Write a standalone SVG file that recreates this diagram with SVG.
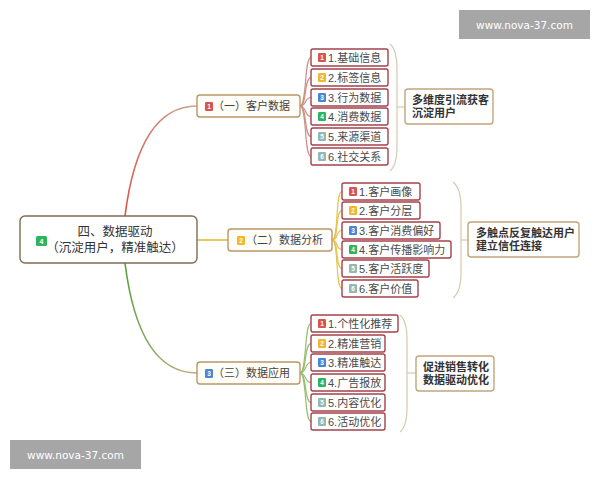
<svg xmlns="http://www.w3.org/2000/svg" width="600" height="480" viewBox="0 0 600 480">
<style>
text{font-family:"Liberation Sans","Noto Sans CJK SC",sans-serif;}
.leaf{fill:#fff;stroke:#a3424b;stroke-width:1.4;}
.lt{font-size:11px;fill:#4a4a4a;}
.br{fill:#fffdf8;stroke:#b99868;stroke-width:1.4;}
.bt{font-size:11px;fill:#444;}
.sum{fill:#fff;stroke:#c4a57c;stroke-width:1.4;}
.st{font-size:11px;font-weight:bold;fill:#333;}
.bn{font-size:6.5px;font-weight:bold;fill:#fff;text-anchor:middle;}
.c1{fill:#d9534f;}.c2{fill:#f0b72f;}.c3{fill:#4a86d4;}.c4{fill:#2db55d;}.c5{fill:#93b7b3;}
.f1{fill:none;stroke:#cc9087;stroke-width:1.2;}
.f2{fill:none;stroke:#e6c34f;stroke-width:1.2;}
.f3{fill:none;stroke:#96bf72;stroke-width:1.2;}
.brace{fill:none;stroke:#d8c8b0;stroke-width:1.2;}
.wm{fill:#a6a6a6;}
.wmt{font-family:"DejaVu Sans",sans-serif;font-size:10.5px;fill:#fff;}
</style>
<defs>
<linearGradient id="g1" gradientUnits="userSpaceOnUse" x1="125" y1="216" x2="197" y2="106">
<stop offset="0" stop-color="#d9534a"/><stop offset="0.6" stop-color="#d27a6a"/><stop offset="1" stop-color="#caa68a"/>
</linearGradient>
<linearGradient id="g3" gradientUnits="userSpaceOnUse" x1="125" y1="263" x2="197" y2="373">
<stop offset="0" stop-color="#58a03a"/><stop offset="0.6" stop-color="#82a860"/><stop offset="1" stop-color="#bfae88"/>
</linearGradient>
</defs>
<rect width="600" height="480" fill="#fff"/>

<g id="connectors">
<path d="M125,216 C132,160 150,106 197,106" fill="none" stroke="url(#g1)" stroke-width="1.6"/>
<path d="M197,240 L228,240" fill="none" stroke="#e3bd3c" stroke-width="1.6"/>
<path d="M125,263 C132,319 150,373 197,373" fill="none" stroke="url(#g3)" stroke-width="1.6"/>
<g>
<path class="f1" d="M300,106 C307,106 304,57.5 311,57.5"/>
<path class="f1" d="M300,106 C307,106 304,77.5 311,77.5"/>
<path class="f1" d="M300,106 C307,106 304,97.5 311,97.5"/>
<path class="f1" d="M300,106 C307,106 304,116.5 311,116.5"/>
<path class="f1" d="M300,106 C307,106 304,136.5 311,136.5"/>
<path class="f1" d="M300,106 C307,106 304,156.5 311,156.5"/>
</g>
<g>
<path class="f2" d="M332,240 C339,240 335,191.5 342,191.5"/>
<path class="f2" d="M332,240 C339,240 335,210.5 342,210.5"/>
<path class="f2" d="M332,240 C339,240 335,230.5 342,230.5"/>
<path class="f2" d="M332,240 C339,240 335,249.5 342,249.5"/>
<path class="f2" d="M332,240 C339,240 335,268.5 342,268.5"/>
<path class="f2" d="M332,240 C339,240 335,288.5 342,288.5"/>
</g>
<g>
<path class="f3" d="M300,373 C307,373 304,323.5 311,323.5"/>
<path class="f3" d="M300,373 C307,373 304,343.5 311,343.5"/>
<path class="f3" d="M300,373 C307,373 304,362.5 311,362.5"/>
<path class="f3" d="M300,373 C307,373 304,382.5 311,382.5"/>
<path class="f3" d="M300,373 C307,373 304,402.5 311,402.5"/>
<path class="f3" d="M300,373 C307,373 304,421.5 311,421.5"/>
</g>
<path class="brace" d="M390,44 C395,48 397,56 397,70 L397,146 C397,160 395,167 390,171"/>
<path class="brace" d="M397,107 L405,107"/>
<path class="brace" d="M453,182 C458,186 461,194 461,207 L461,273 C461,286 458,294 453,298"/>
<path class="brace" d="M461,240 L468,240"/>
<path class="brace" d="M400,315 C405,319 407,327 407,340 L407,407 C407,420 405,428 400,432"/>
<path class="brace" d="M407,373 L416,373"/>
</g>

<g id="center">
<rect x="20" y="216" width="177" height="47" rx="5" fill="#fff" stroke="#7d6c56" stroke-width="1.4"/>
<rect x="36" y="236" width="11" height="10" rx="1.5" class="c4"/>
<text x="41.5" y="243.5" class="bn" style="font-size:7px">4</text>
<text x="115" y="236" text-anchor="middle" style="font-size:12.5px;fill:#333">四、数据驱动</text>
<text x="115" y="252" text-anchor="middle" style="font-size:12.5px;fill:#333">（沉淀用户，精准触达）</text>
</g>

<g id="branch1">
<rect x="197" y="95" width="103" height="22" rx="3" class="br"/>
<rect x="205" y="102" width="8" height="9" rx="1.2" class="c1"/>
<text x="209" y="109" class="bn">1</text>
<text x="213" y="110" class="bt">（一）客户数据</text>
</g>
<g id="b1leaves">
<g id="b1l1"><rect x="311" y="49" width="77" height="17" rx="2" class="leaf"/><rect x="318" y="53" width="8" height="9" rx="1.2" class="c1"/><text x="322" y="60" class="bn">1</text><text x="328" y="61.5" class="lt">1.基础信息</text></g>
<g id="b1l2"><rect x="311" y="69" width="77" height="17" rx="2" class="leaf"/><rect x="318" y="73" width="8" height="9" rx="1.2" class="c2"/><text x="322" y="80" class="bn">2</text><text x="328" y="81.5" class="lt">2.标签信息</text></g>
<g id="b1l3"><rect x="311" y="89" width="77" height="17" rx="2" class="leaf"/><rect x="318" y="93" width="8" height="9" rx="1.2" class="c3"/><text x="322" y="100" class="bn">3</text><text x="328" y="101.5" class="lt">3.行为数据</text></g>
<g id="b1l4"><rect x="311" y="108" width="77" height="17" rx="2" class="leaf"/><rect x="318" y="112" width="8" height="9" rx="1.2" class="c4"/><text x="322" y="119" class="bn">4</text><text x="328" y="120.5" class="lt">4.消费数据</text></g>
<g id="b1l5"><rect x="311" y="128" width="77" height="17" rx="2" class="leaf"/><rect x="318" y="132" width="8" height="9" rx="1.2" class="c5"/><text x="322" y="139" class="bn">5</text><text x="328" y="140.5" class="lt">5.来源渠道</text></g>
<g id="b1l6"><rect x="311" y="148" width="77" height="17" rx="2" class="leaf"/><rect x="318" y="152" width="8" height="9" rx="1.2" class="c5"/><text x="322" y="159" class="bn">6</text><text x="328" y="160.5" class="lt">6.社交关系</text></g>
</g>
<g id="sum1">
<rect x="405" y="89" width="88" height="35" rx="3" class="sum"/>
<text x="412" y="104" class="st">多维度引流获客</text>
<text x="412" y="117" class="st">沉淀用户</text>
</g>

<g id="branch2">
<rect x="228" y="229" width="104" height="22" rx="3" class="br"/>
<rect x="237" y="236" width="8" height="9" rx="1.2" class="c2"/>
<text x="241" y="243" class="bn">2</text>
<text x="246" y="244" class="bt">（二）数据分析</text>
</g>
<g id="b2leaves">
<g id="b2l1"><rect x="342" y="183" width="78" height="17" rx="2" class="leaf"/><rect x="349" y="187" width="8" height="9" rx="1.2" class="c1"/><text x="353" y="194" class="bn">1</text><text x="359" y="195.5" class="lt">1.客户画像</text></g>
<g id="b2l2"><rect x="342" y="202" width="78" height="17" rx="2" class="leaf"/><rect x="349" y="206" width="8" height="9" rx="1.2" class="c2"/><text x="353" y="213" class="bn">2</text><text x="359" y="214.5" class="lt">2.客户分层</text></g>
<g id="b2l3"><rect x="342" y="222" width="98" height="17" rx="2" class="leaf"/><rect x="349" y="226" width="8" height="9" rx="1.2" class="c3"/><text x="353" y="233" class="bn">3</text><text x="359" y="234.5" class="lt">3.客户消费偏好</text></g>
<g id="b2l4"><rect x="342" y="241" width="109" height="17" rx="2" class="leaf"/><rect x="349" y="245" width="8" height="9" rx="1.2" class="c4"/><text x="353" y="252" class="bn">4</text><text x="359" y="253.5" class="lt">4.客户传播影响力</text></g>
<g id="b2l5"><rect x="342" y="260" width="87" height="17" rx="2" class="leaf"/><rect x="349" y="264" width="8" height="9" rx="1.2" class="c5"/><text x="353" y="271" class="bn">5</text><text x="359" y="272.5" class="lt">5.客户活跃度</text></g>
<g id="b2l6"><rect x="342" y="280" width="76" height="17" rx="2" class="leaf"/><rect x="349" y="284" width="8" height="9" rx="1.2" class="c5"/><text x="353" y="291" class="bn">6</text><text x="359" y="292.5" class="lt">6.客户价值</text></g>
</g>
<g id="sum2">
<rect x="468" y="222" width="111" height="35" rx="3" class="sum"/>
<text x="476" y="237" class="st">多触点反复触达用户</text>
<text x="476" y="250" class="st">建立信任连接</text>
</g>

<g id="branch3">
<rect x="197" y="362" width="103" height="22" rx="3" class="br"/>
<rect x="205" y="369" width="8" height="9" rx="1.2" class="c3"/>
<text x="209" y="376" class="bn">3</text>
<text x="213" y="377" class="bt">（三）数据应用</text>
</g>
<g id="b3leaves">
<g id="b3l1"><rect x="311" y="315" width="87" height="17" rx="2" class="leaf"/><rect x="318" y="319" width="8" height="9" rx="1.2" class="c1"/><text x="322" y="326" class="bn">1</text><text x="328" y="327.5" class="lt">1.个性化推荐</text></g>
<g id="b3l2"><rect x="311" y="335" width="74" height="17" rx="2" class="leaf"/><rect x="318" y="339" width="8" height="9" rx="1.2" class="c2"/><text x="322" y="346" class="bn">2</text><text x="328" y="347.5" class="lt">2.精准营销</text></g>
<g id="b3l3"><rect x="311" y="354" width="74" height="17" rx="2" class="leaf"/><rect x="318" y="358" width="8" height="9" rx="1.2" class="c3"/><text x="322" y="365" class="bn">3</text><text x="328" y="366.5" class="lt">3.精准触达</text></g>
<g id="b3l4"><rect x="311" y="374" width="74" height="17" rx="2" class="leaf"/><rect x="318" y="378" width="8" height="9" rx="1.2" class="c4"/><text x="322" y="385" class="bn">4</text><text x="328" y="386.5" class="lt">4.广告报放</text></g>
<g id="b3l5"><rect x="311" y="394" width="74" height="17" rx="2" class="leaf"/><rect x="318" y="398" width="8" height="9" rx="1.2" class="c5"/><text x="322" y="405" class="bn">5</text><text x="328" y="406.5" class="lt">5.内容优化</text></g>
<g id="b3l6"><rect x="311" y="413" width="74" height="17" rx="2" class="leaf"/><rect x="318" y="417" width="8" height="9" rx="1.2" class="c5"/><text x="322" y="424" class="bn">6</text><text x="328" y="425.5" class="lt">6.活动优化</text></g>
</g>
<g id="sum3">
<rect x="416" y="356" width="78" height="35" rx="3" class="sum"/>
<text x="423" y="371" class="st">促进销售转化</text>
<text x="423" y="384" class="st">数据驱动优化</text>
</g>

<g id="watermarks">
<rect x="459" y="10" width="131" height="29" class="wm"/>
<text x="524.5" y="28.5" text-anchor="middle" class="wmt">www.nova-37.com</text>
<rect x="10" y="440" width="131" height="29" class="wm"/>
<text x="75.5" y="458.5" text-anchor="middle" class="wmt">www.nova-37.com</text>
</g>
</svg>
